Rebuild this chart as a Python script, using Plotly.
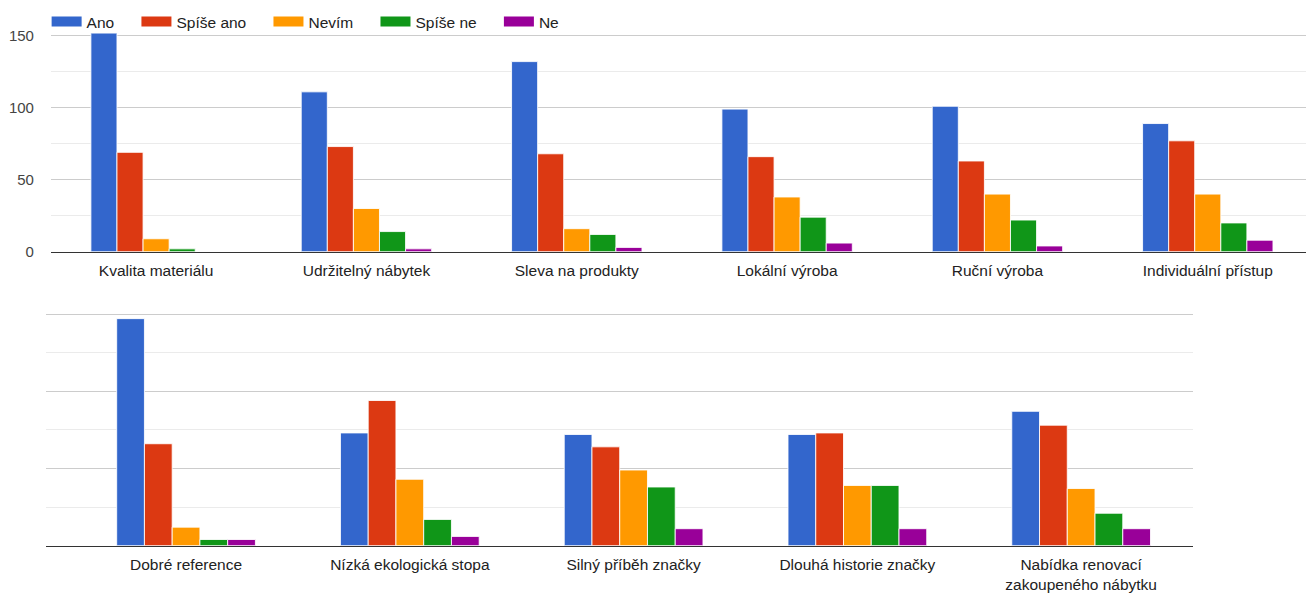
import plotly.graph_objects as go

# Answer options (legend order) and their colours
series = ["Ano", "Spíše ano", "Nevím", "Spíše ne", "Ne"]
colors = ["#3366cc", "#dc3912", "#ff9900", "#109618", "#990099"]

# Upper panel
top_categories = ["Kvalita materiálu", "Udržitelný nábytek", "Sleva na produkty",
                  "Lokální výroba", "Ruční výroba", "Individuální přístup"]
top_ano = [154, 111, 132, 99, 101, 89]
top_spise_ano = [69, 73, 68, 66, 63, 77]
top_nevim = [9, 30, 16, 38, 40, 40]
top_spise_ne = [2, 14, 12, 24, 22, 20]
top_ne = [0, 2, 3, 6, 4, 8]

# Lower panel
bottom_categories = ["Dobré reference", "Nízká ekologická stopa", "Silný příběh značky",
                     "Dlouhá historie značky", "Nabídka renovací<br>zakoupeného nábytku"]
bottom_ano = [147, 73, 72, 72, 87]
bottom_spise_ano = [66, 94, 64, 73, 78]
bottom_nevim = [12, 43, 49, 39, 37]
bottom_spise_ne = [4, 17, 38, 39, 21]
bottom_ne = [4, 6, 11, 11, 11]

y_ticks = [0, 50, 100, 150]

top_values = [top_ano, top_spise_ano, top_nevim, top_spise_ne, top_ne]
bottom_values = [bottom_ano, bottom_spise_ano, bottom_nevim, bottom_spise_ne, bottom_ne]

FONT = "Arial, Liberation Sans, sans-serif"
FS = 15.5
LEGEND_PAD = "\u00a0" * 4  # extra room after each legend label

fig = go.Figure()
for name, color, vals in zip(series, colors, top_values):
    fig.add_trace(go.Bar(
        x=top_categories, y=vals, name=name, legendgroup=name, showlegend=False,
        marker=dict(color=color, line=dict(color="rgba(255,255,255,0.85)", width=1)),
        xaxis="x", yaxis="y", cliponaxis=False,
    ))
for name, color, vals in zip(series, colors, bottom_values):
    fig.add_trace(go.Bar(
        x=bottom_categories, y=vals, name=name, legendgroup=name, showlegend=False,
        marker=dict(color=color, line=dict(color="rgba(255,255,255,0.85)", width=1)),
        xaxis="x2", yaxis="y2",
    ))
# Legend entries drawn as wide colour strips
for name, color in zip(series, colors):
    fig.add_trace(go.Scatter(
        x=[None], y=[None], mode="lines", name=name + LEGEND_PAD, legendgroup=name,
        line=dict(color=color, width=14), xaxis="x", yaxis="y", hoverinfo="skip",
    ))

axis_x = dict(
    type="category", showgrid=False, showline=True, linecolor="#333333", linewidth=1,
    ticks="", ticklabelstandoff=5,
    tickfont=dict(family=FONT, size=FS, color="#222222"), fixedrange=True,
)
axis_y = dict(
    range=[0, 151.5], tickvals=y_ticks, showgrid=True, gridcolor="#cccccc", gridwidth=1,
    minor=dict(dtick=25, showgrid=True, gridcolor="#ebebeb", gridwidth=1),
    zeroline=False, showline=False, ticks="", ticklabelstandoff=16,
    tickfont=dict(family=FONT, size=15, color="#444444"), fixedrange=True,
)

fig.update_layout(
    width=1306, height=593,
    margin=dict(l=0, r=0, t=0, b=0, autoexpand=False),
    paper_bgcolor="white", plot_bgcolor="white",
    barmode="group", bargap=0.38, bargroupgap=0.0,
    font=dict(family=FONT, size=FS, color="#222222"),
    xaxis=dict(axis_x, domain=[0.039, 1.0], range=[-0.5, 5.467]),
    yaxis=dict(axis_y, domain=[0.5755, 0.9435], anchor="x"),
    xaxis2=dict(axis_x, domain=[0.0352, 0.9135], range=[-0.626, 4.5], anchor="y2"),
    yaxis2=dict(axis_y, domain=[0.0798, 0.4744], anchor="x2", showticklabels=False),
    legend=dict(orientation="h", x=0.0357, xanchor="left", y=0.9916, yanchor="top",
                itemwidth=30, font=dict(family=FONT, size=FS, color="#222222"),
                bgcolor="rgba(0,0,0,0)", traceorder="normal"),
    showlegend=True,
)

fig.write_html("out.html")
